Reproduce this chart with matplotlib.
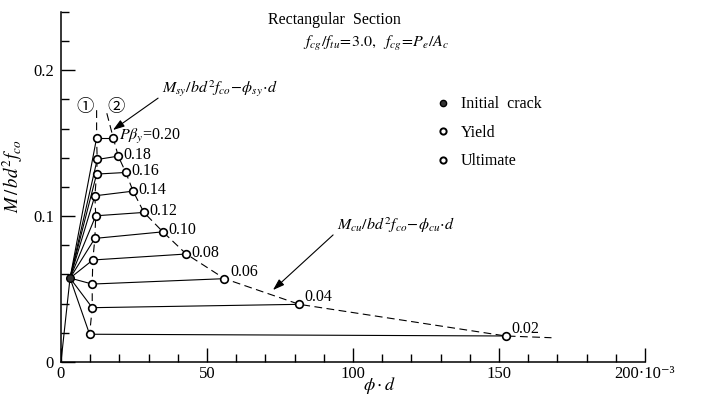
import matplotlib
matplotlib.use('Agg')
import matplotlib.pyplot as plt
from matplotlib.lines import Line2D
from matplotlib.ticker import MultipleLocator, FixedLocator


plt.rcParams['font.family'] = ['Liberation Serif', 'DejaVu Serif']
plt.rcParams['mathtext.fontset'] = 'stix'

# (phi*d in 1e-3, M/bd^2f_co)
pby = ['0.20', '0.18', '0.16', '0.14', '0.12', '0.10', '0.08', '0.06', '0.04', '0.02']
yield_phi = [12.2, 12.4, 12.2, 11.6, 11.9, 11.6, 10.9, 10.7, 10.7, 9.8]
yield_m = [0.1536, 0.1388, 0.1288, 0.1139, 0.1002, 0.0847, 0.0699, 0.0534, 0.0372, 0.019]
ult_phi = [17.9, 19.6, 22.2, 24.7, 28.4, 34.9, 42.9, 56.0, 81.6, 152.3]
ult_m = [0.1536, 0.1411, 0.1299, 0.1171, 0.1025, 0.0892, 0.074, 0.0571, 0.0395, 0.0178]
crack_phi, crack_m = 3.1, 0.0575

# ends of the two dashed curves
yield_top = (12.2, 0.1726)
ult_top = (15.7, 0.1705)
ult_end = (168.0, 0.0166)

FS = 11.5

fig = plt.figure(figsize=(7.01, 3.96), dpi=100)
ax = fig.add_axes([0.087, 0.086, 0.833, 0.884])

lw = 0.8
dash = (0, (7, 4))
# origin -> initial crack
ax.plot([0, crack_phi], [0, crack_m], color='k', lw=lw)
# fan: crack -> yield, yield -> ultimate
for i in range(len(pby)):
    ax.plot([crack_phi, yield_phi[i]], [crack_m, yield_m[i]], color='k', lw=lw)
    ax.plot([yield_phi[i], ult_phi[i]], [yield_m[i], ult_m[i]], color='k', lw=lw)

# dashed curves (1) yield and (2) ultimate
ax.plot([yield_top[0]] + yield_phi, [yield_top[1]] + yield_m, color='k', lw=lw, ls=dash)
ax.plot([ult_top[0]] + ult_phi + [ult_end[0]], [ult_top[1]] + ult_m + [ult_end[1]],
        color='k', lw=lw, ls=dash)

ms = 5.5
ax.plot(yield_phi, yield_m, 'o', ms=ms, mfc='white', mec='k', mew=1.2, zorder=5)
ax.plot(ult_phi, ult_m, 'o', ms=ms, mfc='white', mec='k', mew=1.2, zorder=5)
ax.plot([crack_phi], [crack_m], 'o', ms=ms, mfc='0.2', mec='k', mew=1.0, zorder=5)

# P beta_y labels
for i, lab in enumerate(pby):
    txt = r'$P\beta_y$=' + lab if i == 0 else lab
    dy = 1 if i < 7 else 5
    ax.annotate(txt, (ult_phi[i], ult_m[i]), xytext=(4, dy), textcoords='offset points',
                ha='left', va='center', fontsize=FS)

# circled curve numbers
ax.text(8.2, 0.1745, '①', ha='center', va='center', fontsize=12.5,
        family=['Noto Sans CJK JP', 'DejaVu Sans'])
ax.text(19.0, 0.1745, '②', ha='center', va='center', fontsize=12.5,
        family=['Noto Sans CJK JP', 'DejaVu Sans'])

arrow = dict(arrowstyle='-|>,head_length=0.6,head_width=0.2', color='k', lw=0.8,
             relpos=(0, 0.2), shrinkA=1, shrinkB=0)
ax.annotate(r'$M_{sy}/bd^2f_{co}\!-\!\phi_{sy}\!\cdot\! d$', xy=(17.8, 0.159),
            xytext=(34.6, 0.187), ha='left', va='center', fontsize=FS,
            arrowprops=arrow)
ax.annotate(r'$M_{cu}/bd^2f_{co}\!-\!\phi_{cu}\!\cdot\! d$', xy=(72.6, 0.0493),
            xytext=(94.5, 0.0935), ha='left', va='center', fontsize=FS,
            arrowprops=arrow)

ax.text(0.354, 0.977, 'Rectangular  Section', transform=ax.transAxes,
        ha='left', va='center', fontsize=FS)
ax.text(0.414, 0.911, r'$f_{cg}/f_{tu}\!=\!3.0,\ \ f_{cg}\!=\!P_e/A_c$',
        transform=ax.transAxes, ha='left', va='center', fontsize=FS)

handles = [
    Line2D([], [], ls='none', marker='o', ms=4.5, mfc='0.2', mec='k', mew=1.0),
    Line2D([], [], ls='none', marker='o', ms=4.5, mfc='white', mec='k', mew=1.4),
    Line2D([], [], ls='none', marker='o', ms=4.5, mfc='white', mec='k', mew=1.4),
]
ax.legend(handles, ['Initial  crack', 'Yield', 'Ultimate'], loc='upper left',
          bbox_to_anchor=(0.63, 0.777), frameon=False, fontsize=FS,
          handlelength=1.0, handletextpad=0.6, labelspacing=0.78, borderaxespad=0)

ax.set_xlim(0, 200)
ax.set_ylim(0, 0.24)
for s in ['top', 'right']:
    ax.spines[s].set_visible(False)
for s in ['left', 'bottom']:
    ax.spines[s].set_linewidth(1.1)

ax.xaxis.set_major_locator(FixedLocator([0, 50, 100, 150, 200]))
ax.xaxis.set_minor_locator(MultipleLocator(10))
ax.set_xticklabels(['0', '50', '100', '150', '200·10⁻³'])
ax.yaxis.set_major_locator(FixedLocator([0, 0.1, 0.2]))
ax.yaxis.set_minor_locator(MultipleLocator(0.02))
ax.set_yticklabels(['0', '0.1', '0.2'])
ax.tick_params(which='both', direction='in', labelsize=12, width=1.0)
ax.tick_params(which='major', length=10)
ax.tick_params(which='minor', length=6)
ax.tick_params(axis='x', pad=3)
ax.tick_params(axis='y', pad=5)

ax.set_xlabel(r'$\phi\cdot d$', fontsize=13)
ax.xaxis.set_label_coords(0.545, -0.036)
ax.set_ylabel(r'$M\,/\,bd^2f_{co}$', fontsize=13.5)
ax.yaxis.set_label_coords(-0.062, 0.53)

fig.savefig('out.png', dpi=100)
